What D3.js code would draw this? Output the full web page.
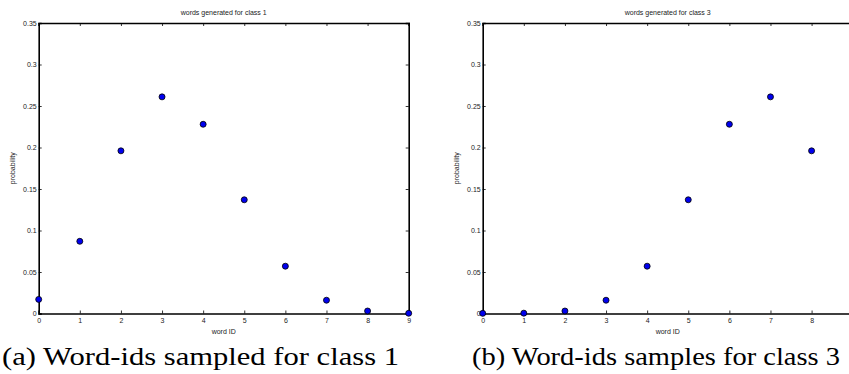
<!DOCTYPE html>
<html>
<head>
  <meta charset="utf-8" />
  <title>Word-ids sampled</title>
  <style>
    body { margin: 0; background: #fff; }
    svg { display: block; }
    .tick text { font-family: "Liberation Sans", Arial, sans-serif; font-size: 7px; fill: #222; }
    .lbl { font-family: "Liberation Sans", Arial, sans-serif; font-size: 7px; fill: #222; }
    .cap { font-family: "Liberation Serif", "DejaVu Serif", serif; font-size: 26px; fill: #000; }
  </style>
</head>
<body>
  <svg id="svg" width="849" height="374"></svg>
  <script src="https://d3js.org/d3.v7.min.js"></script>
  <script>
    // word ids and probabilities
    const ids1 = [0, 1, 2, 3, 4, 5, 6, 7, 8, 9]
    const prob1 = [0.017, 0.087, 0.196, 0.261, 0.228, 0.137, 0.057, 0.016, 0.003, 0.0003]
    const ids3 = [0, 1, 2, 3, 4, 5, 6, 7, 8]
    const prob3 = [0.0002, 0.0004, 0.003, 0.016, 0.057, 0.137, 0.228, 0.261, 0.196]
    const xTicks = [0, 1, 2, 3, 4, 5, 6, 7, 8, 9]
    const yTicks = [0, 0.05, 0.1, 0.15, 0.2, 0.25, 0.3, 0.35]

    const svg = d3.select('#svg')
    const W = 849

    const panels = [
      { left: 38.7, ids: ids1, prob: prob1, title: 'words generated for class 1', caption: '(a) Word-ids sampled for class 1', capX: 2, capW: 397 },
      { left: 482.7, ids: ids3, prob: prob3, title: 'words generated for class 3', caption: '(b) Word-ids samples for class 3', capX: 472, capW: 368 }
    ]

    const plotTop = 23, plotBottom = 313.5, plotW = 370

    panels.forEach(p => {
      const g = svg.append('g')
      const x = d3.scaleLinear().domain([0, 9]).range([p.left, p.left + plotW])
      const y = d3.scaleLinear().domain([0, 0.35]).range([plotBottom, plotTop])
      const fmt = d => d === 0 ? '0' : String(+d.toFixed(2))
      // the right panel runs past the page edge: only ticks that fit are labelled
      const shown = xTicks.filter(d => x(d) < W - 2)

      // bottom axis, ticks inward
      g.append('g').attr('transform', `translate(0,${plotBottom})`)
        .call(d3.axisBottom(x).tickValues(shown).tickSize(-3).tickPadding(5).tickFormat(d3.format('d')))
      // top
      g.append('g').attr('transform', `translate(0,${plotTop})`)
        .call(d3.axisTop(x).tickValues(shown).tickSize(-3).tickFormat(''))
      // left
      g.append('g').attr('transform', `translate(${p.left},0)`)
        .call(d3.axisLeft(y).tickValues(yTicks).tickSize(-3).tickPadding(2).tickFormat(fmt))
      // right
      g.append('g').attr('transform', `translate(${p.left + plotW},0)`)
        .call(d3.axisRight(y).tickValues(yTicks).tickSize(-3).tickFormat(''))

      g.selectAll('.domain').attr('stroke', '#000').attr('stroke-width', 1.6)
      g.selectAll('.tick line').attr('stroke', '#000').attr('stroke-width', 0.8)

      g.selectAll('circle.pt')
        .data(p.ids)
        .join('circle')
        .attr('class', 'pt')
        .attr('cx', d => x(d))
        .attr('cy', (d, i) => y(p.prob[i]))
        .attr('r', 3)
        .attr('fill', '#0000ee')
        .attr('stroke', '#000')
        .attr('stroke-width', 0.8)

      g.append('text').attr('class', 'lbl')
        .attr('x', p.left + plotW / 2).attr('y', 15)
        .attr('text-anchor', 'middle').text(p.title)
      g.append('text').attr('class', 'lbl')
        .attr('x', p.left + plotW / 2).attr('y', 334)
        .attr('text-anchor', 'middle').text('word ID')
      g.append('text').attr('class', 'lbl')
        .attr('transform', `translate(${p.left - 24},${(plotTop + plotBottom) / 2}) rotate(-90)`)
        .attr('text-anchor', 'middle').text('probability')

      g.append('text').attr('class', 'cap')
        .attr('x', p.capX).attr('y', 365)
        .attr('textLength', p.capW).attr('lengthAdjust', 'spacingAndGlyphs')
        .text(p.caption)
    })
  </script>
</body>
</html>
